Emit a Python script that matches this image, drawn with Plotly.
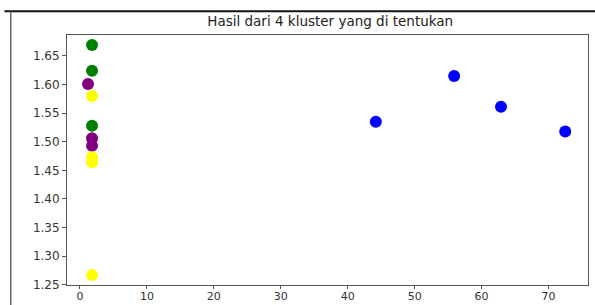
import plotly.graph_objects as go

title = "Hasil dari 4 kluster yang di tentukan"

green_x = [1.8, 1.8, 1.8]
green_y = [1.669, 1.624, 1.528]
purple_x = [1.2, 1.8, 1.8]
purple_y = [1.601, 1.506, 1.493]
yellow_x = [1.8, 1.8, 1.8, 1.8]
yellow_y = [1.580, 1.473, 1.464, 1.267]
blue_x = [44.2, 55.9, 62.9, 72.5]
blue_y = [1.535, 1.615, 1.561, 1.518]
x_ticks = [0, 10, 20, 30, 40, 50, 60, 70]
y_ticks = [1.25, 1.30, 1.35, 1.40, 1.45, 1.50, 1.55, 1.60, 1.65]

series = [
    (green_x, green_y, "green"),
    (purple_x, purple_y, "purple"),
    (yellow_x, yellow_y, "yellow"),
    (blue_x, blue_y, "blue"),
]

fig = go.Figure()
for xs, ys, c in series:
    fig.add_trace(go.Scatter(x=xs, y=ys, mode="markers",
                             marker=dict(color=c, size=12, line=dict(width=0)),
                             showlegend=False))

axis_common = dict(showgrid=False, zeroline=False, showline=True, linecolor="#555",
                   linewidth=1, mirror=True, ticks="outside", tickcolor="#555",
                   automargin=False)

fig.update_layout(
    width=595, height=305,
    margin=dict(l=67, r=7, t=35, b=20),
    paper_bgcolor="white", plot_bgcolor="white",
    title=dict(text=title, x=0.555, xanchor="center", y=0.93, yanchor="middle",
               automargin=False,
               font=dict(family="DejaVu Sans", size=13.5, color="#222")),
    xaxis=dict(range=[-1.94, 75.9], tickvals=x_ticks, ticklen=3, ticklabelstandoff=-2,
               tickfont=dict(family="DejaVu Sans", size=11, color="#333"), **axis_common),
    yaxis=dict(range=[1.2495, 1.6865], tickvals=y_ticks, ticklen=4,
               tickformat=".2f",
               tickfont=dict(family="DejaVu Sans", size=12, color="#333"), **axis_common),
    shapes=[
        dict(type="line", xref="paper", yref="paper", x0=-0.12, x1=1.02, y0=1.095, y1=1.095,
             line=dict(color="#111", width=2)),
        dict(type="line", xref="paper", yref="paper", x0=-0.108, x1=-0.108, y0=-0.08, y1=1.095,
             line=dict(color="#666", width=1.5)),
    ],
)

fig.write_html("out.html", config={"displayModeBar": False},
               post_script="document.body.style.margin='0';")
